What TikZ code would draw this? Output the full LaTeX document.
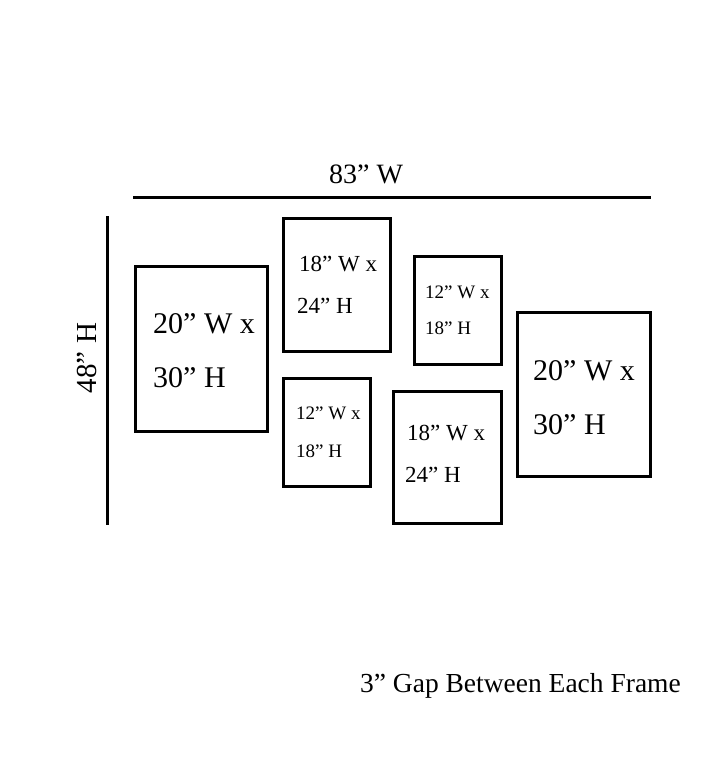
\documentclass[tikz,border=0pt]{standalone}
\usepackage{fontspec}
\setmainfont{Liberation Serif}
\usetikzlibrary{positioning}

\begin{document}
\begin{tikzpicture}[x=1pt,y=-1pt,
frame/.style={line width=3pt},
big/.style={anchor=base west,inner sep=0pt,font=\fontsize{30}{36}\selectfont},
mid/.style={anchor=base west,inner sep=0pt,font=\fontsize{23}{28}\selectfont},
small/.style={anchor=base west,inner sep=0pt,font=\fontsize{19}{23}\selectfont}]
\useasboundingbox (0,0) rectangle (720,778);

% dimension lines
\coordinate (TL) at (133,197);
\coordinate (TR) at (651,197);
\coordinate (LT) at (107,216);
\coordinate (LB) at (107,525);
\draw[line width=3pt] (TL)--(TR);
\draw[line width=3pt] (LT)--(LB);
\node[inner sep=0pt,font=\fontsize{28}{34}\selectfont] (width) at (366,174) {83” W};
\node[inner sep=0pt,rotate=90,font=\fontsize{29}{34}\selectfont] (height) at (87,358) {48” H};

% frames
\draw[frame] (135,266) rectangle (267,431);
\draw[frame] (283,218) rectangle (390,351);
\draw[frame] (414,256) rectangle (501,364);
\draw[frame] (517,312) rectangle (650,476);
\draw[frame] (283,378) rectangle (370,486);
\draw[frame] (393,391) rectangle (501,523);

\node[big] (aw) at (153,333) {20” W x};
\node[big] (ah) at (153,387) {30” H};
\node[mid] (bw) at (299,271) {18” W x};
\node[mid] (bh) at (297,313) {24” H};
\node[small] (cw) at (425,298) {12” W x};
\node[small] (ch) at (425,334) {18” H};
\node[big] (dw) at (533,380) {20” W x};
\node[big] (dh) at (533,434) {30” H};
\node[small] (ew) at (296,419) {12” W x};
\node[small] (eh) at (296,457) {18” H};
\node[mid] (fw) at (407,440) {18” W x};
\node[mid] (fh) at (405,482) {24” H};

\node[anchor=base east,inner sep=0pt,font=\fontsize{27.5}{33}\selectfont] (gap) at (681,692) {3” Gap Between Each Frame};
\end{tikzpicture}
\end{document}
